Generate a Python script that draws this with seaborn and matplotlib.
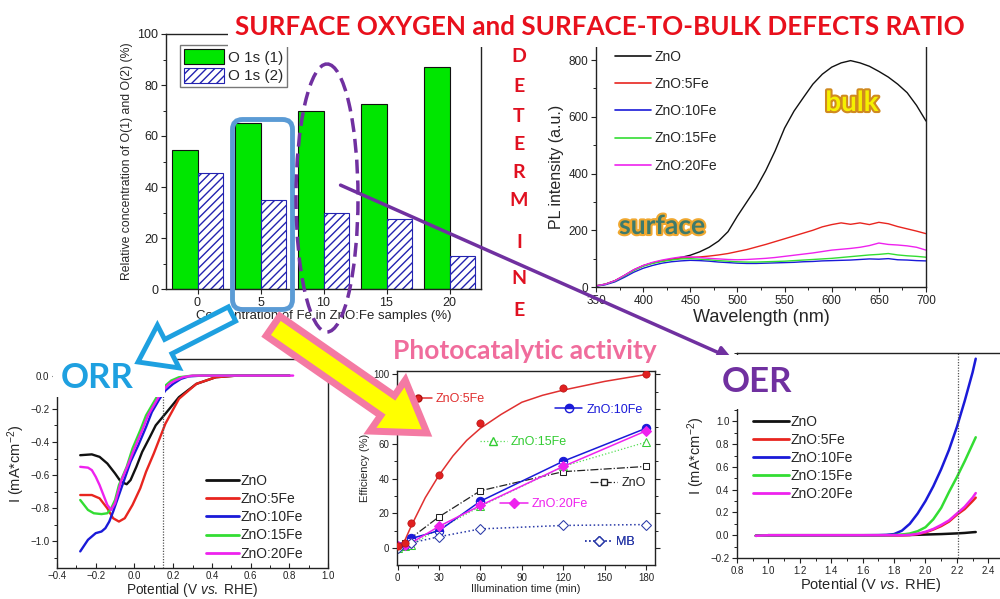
import matplotlib
matplotlib.use("Agg")
import numpy as np
import pandas as pd
import matplotlib.pyplot as plt
import seaborn as sns
from matplotlib.patches import FancyArrow, FancyBboxPatch, Ellipse, Patch, FancyArrowPatch, Rectangle
from matplotlib.lines import Line2D
from matplotlib.ticker import MultipleLocator
import matplotlib.patheffects as pe

# ---------------- data ----------------
# XPS O 1s components vs Fe content
fe_samples = ["0", "5", "10", "15", "20"]
o1s_1 = [54.5, 65, 70, 72.5, 87]
o1s_2 = [45.5, 35, 30, 27.5, 13]

# photoluminescence spectra
wavelength = list(range(350, 701, 10))
pl_zno = [4, 10, 22, 40, 60, 75, 85, 92, 98, 104, 112, 124, 140, 162, 195, 250, 300, 350,
          410, 480, 560, 620, 668, 715, 750, 775, 790, 798, 790, 778, 760, 740, 715, 685, 640, 585]
pl_5fe = [4, 10, 22, 40, 60, 75, 85, 92, 97, 102, 104, 106, 109, 113, 118, 125, 132, 141,
          150, 160, 170, 180, 190, 200, 212, 220, 226, 221, 226, 220, 228, 223, 213, 205, 197, 188]
pl_10fe = [3, 8, 18, 34, 52, 66, 76, 84, 89, 92, 94, 93, 91, 88, 86, 84, 83, 83,
           84, 85, 86, 87, 89, 90, 92, 93, 94, 95, 97, 99, 98, 100, 96, 95, 93, 92]
pl_15fe = [4, 10, 21, 39, 58, 73, 83, 90, 95, 99, 100, 98, 96, 93, 91, 89, 88, 88,
           89, 90, 91, 93, 95, 97, 99, 101, 104, 107, 110, 113, 115, 118, 113, 110, 108, 105]
pl_20fe = [4, 10, 22, 41, 61, 76, 87, 95, 101, 106, 106, 104, 101, 99, 97, 96, 97, 99,
           101, 104, 108, 112, 116, 120, 125, 130, 133, 136, 140, 146, 155, 150, 148, 145, 140, 130]

sample_names = ["ZnO", "ZnO:5Fe", "ZnO:10Fe", "ZnO:15Fe", "ZnO:20Fe"]
sample_colors = ["#111111", "#e8251f", "#1a1ad8", "#33dd33", "#ee22ee"]

# ORR polarisation curves
orr_v_zno = [-0.28, -0.22, -0.18, -0.14, -0.10, -0.07, -0.04, -0.02, 0.01, 0.04, 0.08, 0.11, 0.16, 0.23, 0.32, 0.42, 0.53, 0.80]
orr_i_zno = [-0.48, -0.475, -0.49, -0.53, -0.59, -0.64, -0.655, -0.63, -0.55, -0.46, -0.37, -0.30, -0.23, -0.13, -0.05, -0.01, 0.0, 0.0]
orr_v_5fe = [-0.28, -0.22, -0.18, -0.14, -0.11, -0.08, -0.05, -0.01, 0.03, 0.06, 0.10, 0.13, 0.16, 0.23, 0.32, 0.42, 0.53, 0.80]
orr_i_5fe = [-0.72, -0.72, -0.74, -0.80, -0.86, -0.88, -0.86, -0.78, -0.68, -0.58, -0.47, -0.38, -0.29, -0.14, -0.05, -0.01, 0.0, 0.0]
orr_v_10fe = [-0.28, -0.24, -0.20, -0.17, -0.15, -0.13, -0.11, -0.08, -0.05, -0.02, 0.02, 0.06, 0.09, 0.13, 0.16, 0.20, 0.24, 0.28, 0.35, 0.80]
orr_i_10fe = [-1.06, -0.99, -0.95, -0.94, -0.92, -0.88, -0.82, -0.72, -0.62, -0.52, -0.42, -0.31, -0.22, -0.14, -0.09, -0.05, -0.02, -0.005, 0.0, 0.0]
orr_v_15fe = [-0.28, -0.26, -0.24, -0.21, -0.17, -0.14, -0.12, -0.10, -0.08, -0.04, -0.01, 0.03, 0.06, 0.10, 0.13, 0.16, 0.19, 0.23, 0.30, 0.80]
orr_i_15fe = [-0.75, -0.78, -0.81, -0.83, -0.835, -0.83, -0.80, -0.75, -0.66, -0.55, -0.44, -0.33, -0.24, -0.16, -0.10, -0.06, -0.03, -0.01, 0.0, 0.0]
orr_v_20fe = [-0.28, -0.24, -0.22, -0.20, -0.18, -0.16, -0.14, -0.12, -0.10, -0.07, -0.03, 0.0, 0.04, 0.07, 0.11, 0.14, 0.18, 0.21, 0.25, 0.30, 0.82]
orr_i_20fe = [-0.55, -0.555, -0.57, -0.61, -0.66, -0.72, -0.78, -0.81, -0.77, -0.64, -0.53, -0.44, -0.33, -0.24, -0.16, -0.10, -0.05, -0.03, -0.01, 0.0, 0.0]

# photocatalytic degradation efficiency
time_min = [0, 5, 10, 30, 60, 120, 180]
eff_5fe = [1, 3, 14.5, 42, 72, 92, 100]
fit_time_5fe = [0, 5, 10, 15, 20, 30, 40, 50, 60, 75, 90, 105, 120, 150, 180]
fit_eff_5fe = [1, 4, 13, 21, 29, 42, 53, 62, 69, 77, 84, 88, 91, 96, 100]
eff_10fe = [1, 2, 5.5, 10, 27, 50, 69]
eff_15fe = [0, 1, 2, 11, 24, 47, 61]
eff_20fe = [1, 2, 3, 12.5, 24.5, 47, 67.5]
eff_zno = [1, 3, 6, 18, 33, 44, 47]
time_mb = [0, 10, 30, 60, 120, 180]
eff_mb = [0, 3, 6.5, 11, 13, 13.5]

# OER polarisation curves
oer_v = [0.92, 1.0, 1.2, 1.4, 1.6, 1.7, 1.75, 1.8, 1.85, 1.9, 1.95, 2.0, 2.05, 2.1, 2.15, 2.2, 2.25, 2.3, 2.32]
oer_zno = [-0.005, 0, 0, 0, 0, 0, 0, 0, 0.001, 0.002, 0.004, 0.006, 0.008, 0.01, 0.013, 0.016, 0.02, 0.026, 0.028]
oer_5fe = [-0.005, 0, 0, 0, 0, 0, 0, 0, 0.0, 0.002, 0.01, 0.025, 0.05, 0.08, 0.12, 0.18, 0.23, 0.30, 0.33]
oer_10fe = [-0.005, 0, 0, 0, 0, 0.001, 0.003, 0.01, 0.04, 0.10, 0.19, 0.30, 0.43, 0.58, 0.75, 0.95, 1.18, 1.43, 1.55]
oer_15fe = [-0.005, 0, 0, 0, 0, 0, 0, 0.002, 0.006, 0.015, 0.035, 0.07, 0.14, 0.24, 0.38, 0.51, 0.65, 0.80, 0.86]
oer_20fe = [-0.005, 0, 0, 0, 0, 0, 0, 0, 0.0, 0.003, 0.012, 0.03, 0.055, 0.09, 0.13, 0.19, 0.25, 0.33, 0.37]

# ---------------- style ----------------
sns.set_theme(style="ticks")
plt.rcParams["font.family"] = ["Liberation Sans", "DejaVu Sans"]
plt.rcParams["mathtext.fontset"] = "custom"
plt.rcParams["mathtext.rm"] = "Liberation Sans"
plt.rcParams["mathtext.it"] = "Liberation Sans:italic"
plt.rcParams["hatch.linewidth"] = 1.0
plt.rcParams["axes.linewidth"] = 1.0
plt.rcParams["axes.edgecolor"] = "#222222"

HEAD_FONT = ["Lato", "Liberation Sans"]

W, H = 1000, 599
fig = plt.figure(figsize=(W / 100, H / 100), dpi=100)
fig.patch.set_facecolor("white")


def px_axes(left, top, right, bottom):
    return fig.add_axes([left / W, 1 - bottom / H, (right - left) / W, (bottom - top) / H])


def style_ticks(ax, size):
    ax.tick_params(axis="both", which="major", direction="out", length=3.5, width=0.8,
                   labelsize=size, colors="#222222", pad=2)
    ax.tick_params(axis="both", which="minor", direction="out", length=2, width=0.7, colors="#222222")


# ---------------- bar chart: O 1s components ----------------
ax1 = px_axes(166, 34, 481, 289)
bar_df = pd.DataFrame({
    "sample": fe_samples * 2,
    "value": o1s_1 + o1s_2,
    "peak": ["O 1s (1)"] * len(fe_samples) + ["O 1s (2)"] * len(fe_samples),
})
sns.barplot(data=bar_df, x="sample", y="value", hue="peak", palette=["#00e600", "white"],
            saturation=1, width=0.8, edgecolor="#111111", linewidth=0.8, legend=False, ax=ax1)
for bar in ax1.containers[1]:
    bar.set_hatch("////")
    bar.set_edgecolor("#2323b0")
ax1.set_xlim(-0.5, 4.5)
ax1.set_ylim(0, 100)
ax1.yaxis.set_major_locator(MultipleLocator(20))
ax1.yaxis.set_minor_locator(MultipleLocator(10))
style_ticks(ax1, 9)
ax1.set_xlabel("Concentration of Fe in ZnO:Fe samples (%)", fontsize=9.5, labelpad=1)
ax1.set_ylabel("Relative concentration of O(1) and O(2) (%)", fontsize=8.8, labelpad=3)
ax1.legend(handles=[Patch(fc="#00e600", ec="#111111", lw=0.8),
                    Patch(fc="white", ec="#2323b0", hatch="////", lw=0.8)],
           labels=["O 1s (1)", "O 1s (2)"], loc="upper left", bbox_to_anchor=(0.045, 0.955),
           fontsize=11, frameon=True, fancybox=False, edgecolor="#555555", borderpad=0.25,
           handlelength=2.6, handleheight=1.1, handletextpad=0.3, labelspacing=0.2, borderaxespad=0)
for s in ax1.spines.values():
    s.set_visible(True)

# ---------------- PL spectra ----------------
ax2 = px_axes(596, 47, 926, 287)
pl_df = pd.DataFrame({
    "wavelength": wavelength * 5,
    "intensity": pl_zno + pl_5fe + pl_10fe + pl_15fe + pl_20fe,
    "sample": sum([[n] * len(wavelength) for n in sample_names], []),
})
sns.lineplot(data=pl_df, x="wavelength", y="intensity", hue="sample", hue_order=sample_names,
             palette=sample_colors, linewidth=1.0, legend=False, ax=ax2)
ax2.set_xlim(350, 700)
ax2.set_ylim(0, 846)
ax2.xaxis.set_major_locator(MultipleLocator(50))
ax2.xaxis.set_minor_locator(MultipleLocator(25))
ax2.yaxis.set_major_locator(MultipleLocator(200))
ax2.yaxis.set_minor_locator(MultipleLocator(100))
style_ticks(ax2, 8.5)
ax2.spines["top"].set_visible(False)
ax2.set_xlabel("Wavelength (nm)", fontsize=13, labelpad=2)
ax2.set_ylabel("PL intensity (a.u.)", fontsize=11.5, labelpad=3)
pl_handles = [Line2D([], [], color=c, lw=1.2) for c in sample_colors]
ax2.legend(pl_handles, sample_names, loc="upper left", bbox_to_anchor=(0.05, 1.0), frameon=False,
           fontsize=10, handlelength=2.6, handletextpad=0.25, labelspacing=0.95, borderpad=0.2,
           borderaxespad=0)

# ---------------- ORR ----------------
ax3 = px_axes(57, 359, 328, 568)
orr_sets = [(orr_v_zno, orr_i_zno), (orr_v_5fe, orr_i_5fe), (orr_v_10fe, orr_i_10fe),
            (orr_v_15fe, orr_i_15fe), (orr_v_20fe, orr_i_20fe)]
for (v, i), c, n in zip(orr_sets, sample_colors, sample_names):
    sns.lineplot(x=v, y=i, color=c, linewidth=1.7, ax=ax3, label=n, legend=False)
ax3.axvline(0.15, color="#555555", lw=0.9, ls=(0, (1, 1.2)))
ax3.set_xlim(-0.4, 1.0)
ax3.set_ylim(-1.16, 0.1)
ax3.xaxis.set_major_locator(MultipleLocator(0.2))
ax3.xaxis.set_minor_locator(MultipleLocator(0.1))
ax3.yaxis.set_major_locator(MultipleLocator(0.2))
ax3.yaxis.set_minor_locator(MultipleLocator(0.1))
style_ticks(ax3, 7)
ax3.tick_params(axis="x", which="both", direction="in", pad=2)
ax3.set_xlabel("Potential (V $\\it{vs.}$ RHE)", fontsize=9.8, labelpad=0)
ax3.set_ylabel("I (mA*cm$^{-2}$)", fontsize=10.5, labelpad=2)
ax3.legend(handles=[Line2D([], [], color=c, lw=2) for c in sample_colors], labels=sample_names,
           loc="upper left", bbox_to_anchor=(0.55, 0.45), frameon=False, fontsize=10,
           handlelength=2.4, handletextpad=0.1, labelspacing=0.3, borderpad=0, borderaxespad=0)

# ---------------- photocatalytic activity ----------------
ax4 = px_axes(397, 371, 655, 565)
sns.lineplot(x=fit_time_5fe, y=fit_eff_5fe, color="#e03030", linewidth=1.1, ax=ax4)
sns.scatterplot(x=time_min, y=eff_5fe, color="#e02020", edgecolor="#b01010", s=28, ax=ax4, zorder=5)
sns.lineplot(x=time_min, y=eff_zno, color="#222222", linewidth=0.9, linestyle="-.", marker="s",
             markersize=5, markerfacecolor="white", markeredgecolor="#222222", ax=ax4)
sns.lineplot(x=time_min, y=eff_15fe, color="#55dd55", linewidth=0.9, linestyle=":", marker="^",
             markersize=6, markerfacecolor="white", markeredgecolor="#33cc33", ax=ax4)
sns.lineplot(x=time_min, y=eff_10fe, color="#1a1ad8", linewidth=1.1, marker="o", markersize=6,
             fillstyle="top", markerfacecoloralt="white", markeredgecolor="#1a1ad8", ax=ax4)
sns.lineplot(x=time_min, y=eff_20fe, color="#ee22ee", linewidth=1.1, marker="D", markersize=5.5,
             markeredgecolor="#ee22ee", ax=ax4)
sns.lineplot(x=time_mb, y=eff_mb, color="#2a3aa8", linewidth=1.1, linestyle=":", marker="D",
             markersize=5.5, markerfacecolor="white", markeredgecolor="#2a3aa8", ax=ax4)
ax4.set_xlim(-0.5, 186.5)
ax4.set_ylim(-9.8, 102)
ax4.xaxis.set_major_locator(MultipleLocator(30))
ax4.xaxis.set_minor_locator(MultipleLocator(15))
ax4.yaxis.set_major_locator(MultipleLocator(20))
ax4.yaxis.set_minor_locator(MultipleLocator(10))
style_ticks(ax4, 7)
ax4.tick_params(axis="y", which="both", right=True)
ax4.set_xlabel("Illumination time (min)", fontsize=8, labelpad=1)
ax4.set_ylabel("Efficiency (%)", fontsize=8, labelpad=2)

photo_keys = [
    ("ZnO:5Fe", Line2D([], [], color="#e03030", lw=1.1, marker="o", ms=5, mfc="#e02020", mec="#b01010"), "#e03030", (0.03, 0.856)),
    ("ZnO:10Fe", Line2D([], [], color="#1a1ad8", lw=1.1, marker="o", ms=6, fillstyle="top", mfcalt="white"), "#1a1ad8", (0.612, 0.80)),
    ("ZnO:15Fe", Line2D([], [], color="#55dd55", lw=0.9, ls=":", marker="^", ms=6, mfc="white", mec="#33cc33"), "#33cc33", (0.32, 0.634)),
    ("ZnO", Line2D([], [], color="#222222", lw=0.9, ls="-.", marker="s", ms=5, mfc="white"), "#222222", (0.748, 0.423)),
    ("ZnO:20Fe", Line2D([], [], color="#ee22ee", lw=1.1, marker="D", ms=5.5), "#ee22ee", (0.40, 0.314)),
    ("MB", Line2D([], [], color="#2a3aa8", lw=1.1, ls=":", marker="D", ms=5.5, mfc="white"), "#2a3aa8", (0.729, 0.119)),
]
for name, handle, col, anchor in photo_keys:
    leg = ax4.legend([handle], [name], loc="center left", bbox_to_anchor=anchor, frameon=False,
                     fontsize=9, labelcolor=col, handlelength=2.2, handletextpad=0.3,
                     borderpad=0, borderaxespad=0)
    ax4.add_artist(leg)

# ---------------- OER ----------------
ax5 = px_axes(737, 353, 1004, 558)
oer_df = pd.DataFrame({
    "potential": oer_v * 5,
    "current": oer_zno + oer_5fe + oer_10fe + oer_15fe + oer_20fe,
    "sample": sum([[n] * len(oer_v) for n in sample_names], []),
})
sns.lineplot(data=oer_df, x="potential", y="current", hue="sample", hue_order=sample_names,
             palette=sample_colors, linewidth=1.8, legend=False, ax=ax5)
ax5.axvline(2.21, color="#555555", lw=0.9, ls=(0, (1, 1.2)))
ax5.set_xlim(0.8, 2.5)
ax5.set_ylim(-0.2, 1.6)
ax5.xaxis.set_major_locator(MultipleLocator(0.2))
ax5.xaxis.set_minor_locator(MultipleLocator(0.1))
ax5.yaxis.set_major_locator(MultipleLocator(0.2))
ax5.yaxis.set_minor_locator(MultipleLocator(0.1))
ax5.set_yticks([-0.2, 0.0, 0.2, 0.4, 0.6, 0.8, 1.0])
style_ticks(ax5, 7)
ax5.set_xlabel("Potential (V $\\it{vs.}$ RHE)", fontsize=10.5, labelpad=0)
ax5.set_ylabel("I (mA*cm$^{-2}$)", fontsize=10.5, labelpad=2)
ax5.legend(handles=[Line2D([], [], color=c, lw=2) for c in sample_colors], labels=sample_names,
           loc="upper left", bbox_to_anchor=(0.06, 0.7), frameon=False, fontsize=10,
           handlelength=2.6, handletextpad=0.1, labelspacing=0.3, borderpad=0, borderaxespad=0)

# ---------------- annotation layer ----------------
ov = fig.add_axes([0, 0, 1, 1], zorder=20)
ov.set_xlim(0, W)
ov.set_ylim(H, 0)
ov.axis("off")
ov.patch.set_alpha(0)

title = ov.text(600, 35, "SURFACE OXYGEN and SURFACE-TO-BULK DEFECTS RATIO", color="#e8101c",
                fontsize=21, fontweight="bold", ha="center", va="baseline", family=HEAD_FONT,
                bbox=dict(fc="white", ec="none", pad=6), zorder=5)
fig.canvas.draw()
tw = title.get_window_extent().width
title.set_fontsize(21 * 728 / tw)

for letter, y in zip("DETERMINE", [57, 87, 116, 144, 172, 200, 243, 279, 310]):
    ov.text(519, y, letter, color="#e01020", fontsize=14, fontweight="bold", ha="center",
            va="center", family=HEAD_FONT)

# white mask under the ORR heading
ov.add_patch(Rectangle((53, 343), 112, 54, fc="white", ec="none", zorder=1))

ov.add_patch(FancyBboxPatch((232.5, 119.5), 60, 190, boxstyle="round,pad=0,rounding_size=10",
                            fc="none", ec="#5b9bd5", lw=3.5, zorder=2))
ov.add_patch(Ellipse((327, 198), 62, 268, fc="none", ec="#7030a0", lw=2.5, ls=(0, (4, 2)), zorder=2))

ov.add_patch(FancyArrowPatch((338, 184), (735, 360), arrowstyle="-|>", mutation_scale=20,
                             color="#7030a0", lw=2.5, zorder=2))

ov.add_patch(FancyArrow(232, 314, -94, 48, width=16, head_width=48, head_length=34,
                        length_includes_head=True, fc="white", ec="#1ea0e0", lw=3.5, zorder=3))
ov.add_patch(FancyArrow(273, 326, 154, 107, width=24, head_width=62, head_length=48,
                        length_includes_head=True, fc="#ffff00", ec="#f47aa3", lw=5, zorder=3))

ov.text(97, 388, "ORR", color="#1ea0e0", fontsize=25, fontweight="bold", ha="center",
        va="baseline", family=HEAD_FONT, zorder=4)
ov.text(757, 392, "OER", color="#7030a0", fontsize=25, fontweight="bold", ha="center",
        va="baseline", family=HEAD_FONT, bbox=dict(fc="white", ec="none", pad=8), zorder=4)
ov.text(525, 359, "Photocatalytic activity", color="#f06c9c", fontsize=19, fontweight="bold",
        ha="center", va="baseline", family=HEAD_FONT, bbox=dict(fc="white", ec="none", pad=4), zorder=4)

ov.text(662, 226, "surface", color="#3d7a6c", fontsize=19, fontweight="bold", ha="center",
        va="center", family=HEAD_FONT, path_effects=[pe.withStroke(linewidth=3, foreground="#f0a830")])
ov.text(852, 103, "bulk", color="#f5f000", fontsize=20, fontweight="bold", ha="center",
        va="center", family=HEAD_FONT, path_effects=[pe.withStroke(linewidth=3, foreground="#d08a20")])

fig.savefig("out.png", dpi=100, facecolor="white")
